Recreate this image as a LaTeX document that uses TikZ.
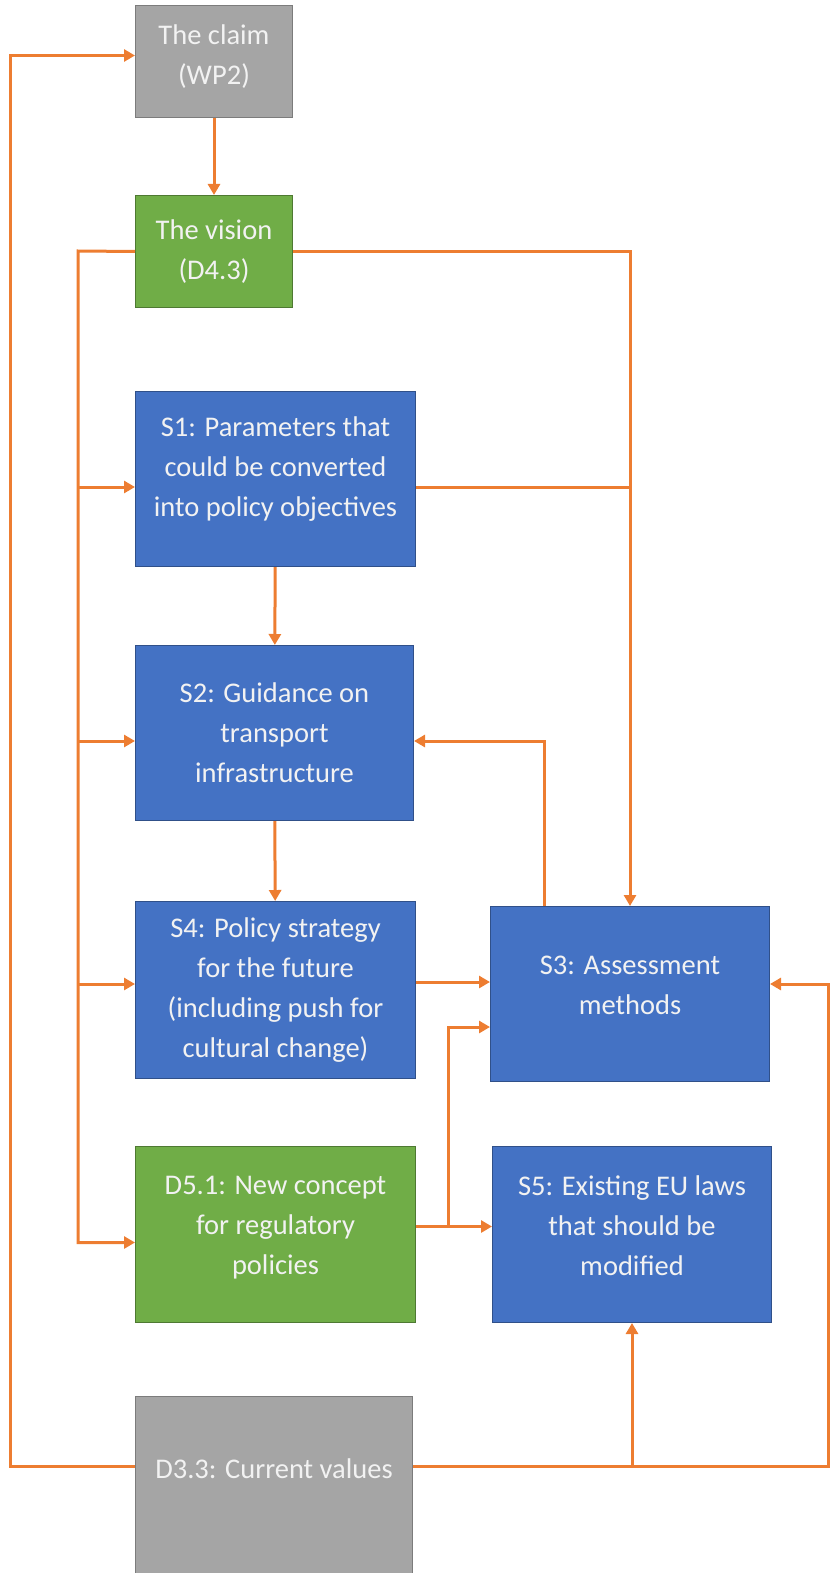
\documentclass[tikz,border=0pt]{standalone}
\usepackage{fontspec}
\setmainfont{Carlito}
\usepackage{tikz}
\usetikzlibrary{arrows.meta,positioning}

\definecolor{boxblue}{HTML}{4472C4}
\definecolor{boxgreen}{HTML}{70AD47}
\definecolor{boxgrey}{HTML}{A5A5A5}
\definecolor{linkorange}{HTML}{ED7D31}

\begin{document}
\begin{tikzpicture}[x=1pt, y=-1pt,
	mybox/.style={rectangle, anchor=north west, align=center, text=white!95!black,
		font=\fontsize{28.5}{40}\selectfont, line width=1pt, inner sep=0pt},
	bluebox/.style={mybox, fill=boxblue, draw=boxblue!70!black},
	greenbox/.style={mybox, fill=boxgreen, draw=boxgreen!70!black},
	greybox/.style={mybox, fill=boxgrey, draw=boxgrey!75!black},
	link/.style={draw=linkorange, line width=3pt},
	arrow/.style={link, -{Triangle[length=11pt,width=12pt]}}]
	\useasboundingbox (0,0) rectangle (835,1573);
	\node[greybox, minimum width=157pt, minimum height=112pt] (claim) at (135,5) {The claim\\(WP2)\\[-26pt]};
	\node[greenbox, minimum width=157pt, minimum height=112pt] (vision) at (135,195) {The vision\\(D4.3)};
	\node[bluebox, minimum width=280pt, minimum height=175pt] (s1) at (135,391) {S1: Parameters that\\could be converted\\into policy objectives\\[-16pt]};
	\node[bluebox, minimum width=278pt, minimum height=175pt] (s2) at (135,645) {S2: Guidance on\\transport\\infrastructure};
	\node[bluebox, minimum width=280pt, minimum height=177pt] (s4) at (135,901) {S4: Policy strategy\\for the future\\(including push for\\cultural change)};
	\node[bluebox, minimum width=279pt, minimum height=175pt] (s3) at (490,906) {S3: Assessment\\methods\\[-22pt]};
	\node[greenbox, minimum width=280pt, minimum height=176pt] (d51) at (135,1146) {D5.1: New concept\\for regulatory\\policies\\[-22pt]};
	\node[bluebox, minimum width=279pt, minimum height=176pt] (s5) at (492,1146) {S5: Existing EU laws\\that should be\\modified\\[-22pt]};
	\node[greybox, minimum width=277pt, minimum height=180pt] (d33) at (135,1396) {D3.3: Current values\\[-4pt]};

	% down the middle column
	\draw[arrow] (claim) -- (vision);
	\draw[arrow] (s1) -- (s2);
	\draw[arrow] (s2) -- (s4);

	% from the vision to the left column boxes
	\coordinate (spine) at (78,251);
	\draw[arrow] (vision.west) -- (spine) |- ([yshift=-8pt]d51.west);
	\foreach \n/\s in {s1/-8, s2/-8, s4/6}
		\draw[arrow] ([yshift=\s pt]spine |- \n.west) -- ([yshift=\s pt]\n.west);

	% towards S3
	\draw[arrow] (vision.east) -| (s3.north);
	\draw[link] ([yshift=-8pt]s1.east) -- ([yshift=-8pt]s1.east -| s3.north);
	\draw[arrow] ([xshift=54pt]s3.north west) |- ([yshift=-8pt]s2.east);
	\draw[arrow] ([yshift=8pt]s4.east) -- ([yshift=8pt]s4.east -| s3.west);
	\draw[arrow] ([yshift=8pt]d51.east) -- ([yshift=8pt]s5.west);
	\draw[arrow] ([xshift=32pt,yshift=8pt]d51.east) |- ([yshift=-33pt]s3.west);

	% from the current values
	\coordinate (far left) at (10,1466);
	\coordinate (far right) at (828,1466);
	\draw[arrow] (d33.west |- far left) -- (far left) |- ([yshift=6pt]claim.west);
	\draw[arrow] (d33.east |- far right) -- (far right) |- ([yshift=10pt]s3.east);
	\draw[arrow] (s5.south |- far right) -- (s5.south);
\end{tikzpicture}
\end{document}
